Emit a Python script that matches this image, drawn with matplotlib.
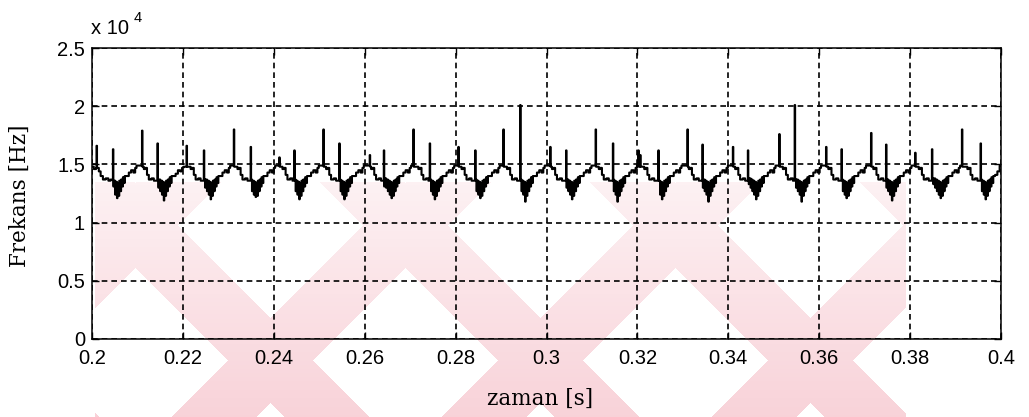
import numpy as np
import matplotlib
matplotlib.use("Agg")
import matplotlib.pyplot as plt
from matplotlib import font_manager

# Measured switching frequency; time in units of 0.1 ms, frequency in Hz
time_01ms = [
    2000, 2004, 2009, 2010, 2011, 2015, 2019, 2024, 2030, 2036, 2041,
    2046, 2047, 2048, 2051, 2052, 2055, 2056, 2059, 2060, 2063, 2064, 2067, 2068, 2071, 2072, 2076, 2081, 2086, 2091, 2095, 2098, 2110, 2111, 2114, 2117, 2121, 2125, 2131, 2136,
    2144, 2145, 2146, 2147, 2150, 2151, 2154, 2155, 2158, 2159, 2162, 2163, 2166, 2167, 2170, 2171, 2174, 2175, 2179, 2184, 2189, 2194, 2198, 2201, 2208, 2209, 2217, 2220, 2224, 2228, 2234, 2239,
    2246, 2247, 2249, 2250, 2253, 2254, 2257, 2258, 2261, 2262, 2265, 2266, 2269, 2270, 2273, 2274, 2277, 2278, 2282, 2287, 2292, 2297, 2301, 2304, 2312, 2313, 2320, 2323, 2327, 2331, 2337, 2342,
    2349, 2350, 2352, 2353, 2356, 2357, 2360, 2361, 2364, 2365, 2368, 2369, 2372, 2373, 2376, 2377, 2381, 2386, 2391, 2396, 2400, 2403, 2412, 2413, 2419, 2422, 2426, 2430, 2436, 2441,
    2445, 2446, 2448, 2449, 2452, 2453, 2456, 2457, 2460, 2461, 2464, 2465, 2468, 2469, 2472, 2473, 2477, 2482, 2487, 2492, 2496, 2499, 2509, 2510, 2515, 2518, 2522, 2526, 2532, 2537,
    2544, 2545, 2547, 2548, 2551, 2552, 2555, 2556, 2559, 2560, 2563, 2564, 2567, 2568, 2571, 2572, 2576, 2581, 2586, 2591, 2595, 2598, 2611, 2612, 2614, 2617, 2621, 2625, 2631, 2636,
    2642, 2643, 2644, 2647, 2648, 2651, 2652, 2655, 2656, 2659, 2660, 2663, 2664, 2667, 2668, 2671, 2672, 2675, 2676, 2680, 2685, 2690, 2695, 2699, 2702, 2707, 2708, 2718, 2721, 2725, 2729, 2735, 2740,
    2743, 2744, 2746, 2747, 2750, 2751, 2754, 2755, 2758, 2759, 2762, 2763, 2766, 2767, 2770, 2771, 2775, 2780, 2785, 2790, 2794, 2797, 2806, 2807, 2813, 2816, 2820, 2824, 2830, 2835,
    2843, 2844, 2846, 2847, 2850, 2851, 2854, 2855, 2858, 2859, 2862, 2863, 2866, 2867, 2870, 2871, 2875, 2880, 2885, 2890, 2894, 2897, 2905, 2906, 2913, 2916, 2920, 2924, 2930, 2935,
    2942, 2943, 2945, 2946, 2949, 2950, 2953, 2954, 2957, 2958, 2961, 2962, 2965, 2966, 2969, 2970, 2974, 2979, 2984, 2989, 2993, 2996, 3008, 3009, 3012, 3015, 3019, 3023, 3029, 3034,
    3043, 3044, 3045, 3048, 3049, 3052, 3053, 3056, 3057, 3060, 3061, 3064, 3065, 3068, 3069, 3072, 3073, 3077, 3082, 3087, 3092, 3096, 3099, 3108, 3109, 3115, 3118, 3122, 3126, 3132, 3137,
    3146, 3147, 3148, 3149, 3152, 3153, 3156, 3157, 3160, 3161, 3164, 3165, 3168, 3169, 3172, 3173, 3177, 3182, 3187, 3192, 3196, 3199, 3202, 3203, 3206, 3207, 3215, 3218, 3222, 3226, 3232, 3237,
    3246, 3247, 3250, 3251, 3254, 3255, 3258, 3259, 3262, 3263, 3266, 3267, 3270, 3271, 3275, 3280, 3285, 3290, 3294, 3297, 3310, 3311, 3313, 3316, 3320, 3324, 3330, 3335,
    3343, 3344, 3345, 3348, 3349, 3352, 3353, 3356, 3357, 3360, 3361, 3364, 3365, 3368, 3369, 3372, 3373, 3377, 3382, 3387, 3392, 3396, 3399, 3410, 3411, 3415, 3418, 3422, 3426, 3432, 3437,
    3443, 3444, 3445, 3446, 3449, 3450, 3453, 3454, 3457, 3458, 3461, 3462, 3465, 3466, 3469, 3470, 3473, 3474, 3477, 3478, 3482, 3487, 3492, 3497, 3501, 3504, 3512, 3513, 3520, 3523, 3527, 3531, 3537, 3542,
    3546, 3547, 3549, 3550, 3553, 3554, 3557, 3558, 3561, 3562, 3565, 3566, 3569, 3570, 3573, 3574, 3577, 3578, 3582, 3587, 3592, 3597, 3601, 3604, 3615, 3616, 3620, 3623, 3627, 3631, 3637, 3642,
    3649, 3650, 3652, 3653, 3656, 3657, 3660, 3661, 3664, 3665, 3668, 3669, 3672, 3673, 3676, 3677, 3681, 3686, 3691, 3696, 3700, 3703, 3714, 3715, 3719, 3722, 3726, 3730, 3736, 3741,
    3747, 3748, 3749, 3752, 3753, 3756, 3757, 3760, 3761, 3764, 3765, 3768, 3769, 3772, 3773, 3776, 3777, 3781, 3786, 3791, 3796, 3800, 3803, 3811, 3812, 3819, 3822, 3826, 3830, 3836, 3841,
    3848, 3849, 3851, 3852, 3855, 3856, 3859, 3860, 3863, 3864, 3867, 3868, 3871, 3872, 3875, 3876, 3879, 3880, 3883, 3884, 3888, 3893, 3898, 3903, 3907, 3910, 3914, 3915, 3926, 3929, 3933, 3937, 3943, 3948,
    3955, 3956, 3958, 3959, 3962, 3963, 3966, 3967, 3970, 3971, 3974, 3975, 3978, 3979, 3982, 3983, 3987, 3992, 3997, 4000,
]

freq_hz = [
    14800, 14600, 14700, 16600, 14700, 14400, 14000, 13700, 13800, 13600, 13700,
    16300, 13100, 13600, 12400, 13500, 12100, 13400, 12300, 13600, 12700, 13700, 13100, 13900, 13400, 14000, 14000, 14300, 14500, 14300, 14700, 14900, 17900, 14800, 14600, 14700, 14100, 13700, 13800, 13600,
    16800, 13700, 13000, 13700, 12700, 13600, 12400, 13500, 11900, 13400, 12300, 13600, 12700, 13700, 13100, 13900, 13400, 14000, 14000, 14200, 14500, 14400, 14700, 14800, 16600, 14800, 14600, 14700, 14100, 13700, 13800, 13600,
    16200, 13700, 13000, 13700, 12700, 13600, 12400, 13500, 12000, 13400, 12300, 13600, 12700, 13700, 13100, 13900, 13400, 14000, 14000, 14300, 14500, 14300, 14700, 14900, 18000, 14800, 14600, 14700, 14100, 13700, 13800, 13600,
    16500, 13700, 12700, 13600, 12400, 13500, 12200, 13400, 12300, 13600, 12700, 13700, 13100, 13900, 13400, 14000, 14000, 14300, 14500, 14300, 14700, 14900, 15600, 14800, 14600, 14700, 14100, 13700, 13800, 13600,
    16200, 13700, 12700, 13600, 12400, 13500, 12000, 13400, 12300, 13600, 12700, 13700, 13100, 13900, 13400, 14000, 14000, 14300, 14500, 14300, 14700, 14900, 18000, 14800, 14600, 14700, 14100, 13700, 13800, 13600,
    16800, 13700, 12700, 13600, 12400, 13500, 12000, 13400, 12300, 13600, 12700, 13700, 13100, 13900, 13400, 14000, 14000, 14300, 14500, 14300, 14700, 14900, 15800, 14800, 14600, 14700, 14100, 13700, 13800, 13600,
    16200, 13100, 13800, 13000, 13700, 12700, 13600, 12400, 13500, 12100, 13400, 12300, 13600, 12700, 13700, 13100, 13900, 13400, 14000, 14000, 14300, 14500, 14300, 14700, 14900, 18000, 14800, 14600, 14700, 14100, 13700, 13800, 13600,
    16800, 13700, 12700, 13600, 12400, 13500, 12000, 13400, 12300, 13600, 12700, 13700, 13100, 13900, 13400, 14000, 14000, 14300, 14500, 14300, 14700, 14900, 16500, 14800, 14600, 14700, 14100, 13700, 13800, 13600,
    16200, 13700, 12700, 13600, 12400, 13500, 12100, 13400, 12300, 13600, 12700, 13700, 13100, 13900, 13400, 14000, 14000, 14300, 14500, 14300, 14700, 14900, 18000, 14800, 14600, 14700, 14100, 13700, 13800, 13600,
    20100, 13700, 12700, 13600, 12400, 13500, 11800, 13400, 12300, 13600, 12700, 13700, 13100, 13900, 13400, 14000, 14000, 14300, 14500, 14300, 14700, 14900, 16500, 14800, 14600, 14700, 14100, 13700, 13800, 13600,
    16200, 13000, 13700, 12700, 13600, 12400, 13500, 12000, 13400, 12300, 13600, 12700, 13700, 13100, 13900, 13400, 14000, 14000, 14300, 14500, 14300, 14700, 14900, 18000, 14800, 14600, 14700, 14100, 13700, 13800, 13600,
    16800, 13700, 12700, 13600, 12400, 13500, 11800, 13400, 12300, 13600, 12700, 13700, 13100, 13900, 13400, 14000, 14000, 14300, 14500, 14300, 14700, 14900, 16200, 14800, 15800, 14800, 14600, 14700, 14100, 13700, 13800, 13600,
    16200, 13600, 12400, 13500, 12000, 13400, 12300, 13600, 12700, 13700, 13100, 13900, 13400, 14000, 14000, 14300, 14500, 14300, 14700, 14900, 18000, 14800, 14600, 14700, 14100, 13700, 13800, 13600,
    16700, 13000, 13700, 12700, 13600, 12400, 13500, 11800, 13400, 12300, 13600, 12700, 13700, 13100, 13900, 13400, 14000, 14000, 14300, 14500, 14300, 14700, 14900, 16500, 14800, 14600, 14700, 14100, 13700, 13800, 13600,
    16200, 13700, 13300, 13800, 13000, 13700, 12700, 13600, 12400, 13500, 12000, 13400, 12300, 13600, 12700, 13700, 13100, 13900, 13400, 14000, 14000, 14300, 14500, 14300, 14700, 14900, 17600, 14800, 14600, 14700, 14100, 13700, 13800, 13600,
    20100, 13700, 13000, 13700, 12700, 13600, 12400, 13500, 11800, 13400, 12300, 13600, 12700, 13700, 13100, 13900, 13400, 14000, 14000, 14300, 14500, 14300, 14700, 14900, 16500, 14800, 14600, 14700, 14100, 13700, 13800, 13600,
    16300, 13700, 12700, 13600, 12400, 13500, 12100, 13400, 12300, 13600, 12700, 13700, 13100, 13900, 13400, 14000, 14000, 14300, 14500, 14300, 14700, 14900, 17700, 14800, 14600, 14700, 14100, 13700, 13800, 13600,
    16700, 13000, 13700, 12700, 13600, 12400, 13500, 11900, 13400, 12300, 13600, 12700, 13700, 13100, 13900, 13400, 14000, 14000, 14300, 14500, 14300, 14700, 14900, 16000, 14800, 14600, 14700, 14100, 13700, 13800, 13600,
    16300, 13700, 13300, 13800, 13000, 13700, 12700, 13600, 12400, 13500, 12100, 13400, 12300, 13600, 12700, 13700, 13100, 13900, 13400, 14000, 14000, 14300, 14500, 14300, 14700, 14900, 18000, 14800, 14600, 14700, 14100, 13700, 13800, 13600,
    16800, 13700, 12700, 13600, 12400, 13500, 12000, 13400, 12300, 13600, 12700, 13700, 13100, 13900, 13400, 14000, 14100, 14400, 14900, 14900,
]

x_ticks = [0.2, 0.22, 0.24, 0.26, 0.28, 0.3, 0.32, 0.34, 0.36, 0.38, 0.4]
x_tick_labels = ["0.2", "0.22", "0.24", "0.26", "0.28", "0.3", "0.32", "0.34", "0.36", "0.38", "0.4"]
y_ticks_hz = [0, 5000, 10000, 15000, 20000, 25000]
y_tick_labels = ["0", "0.5", "1", "1.5", "2", "2.5"]

assert len(time_01ms) == len(freq_hz)


def available(*names):
    have = {f.name for f in font_manager.fontManager.ttflist}
    found = [n for n in names if n in have]
    return found + ["DejaVu Sans"]


tick_family = available("Liberation Sans Narrow", "Liberation Sans")
label_family = available("DejaVu Serif")
tick_size = 14.5

W, H = 1029, 417
fig = plt.figure(figsize=(W / 100, H / 100), dpi=100, facecolor="white")

# Light pink diagonal watermark behind the plot: crossing diagonal bands
bg = fig.add_axes([0, 0, 1, 1], zorder=0)
yy, xx = np.mgrid[0:H, 0:W].astype(float)
band = 84
mask = np.zeros((H, W), dtype=bool)
for xc in (0, 270, 540, 810, 1080):
    up = xx - (xc + (360 - yy))      # "/" band through (xc, 360)
    down = xx - (xc - (360 - yy))    # "\" band through (xc, 360)
    mask |= np.abs(up) <= band / 2
    mask |= np.abs(down) <= band / 2
mask &= (yy >= 182) & (xx >= 95) & (xx <= 905)
alpha = np.where(mask, 0.10 + 0.22 * np.clip((yy - 182) / (H - 182), 0, 1), 0.0)
rgba = np.zeros((H, W, 4))
rgba[..., 0] = 235 / 255
rgba[..., 1] = 115 / 255
rgba[..., 2] = 135 / 255
rgba[..., 3] = alpha
bg.imshow(rgba, extent=(0, W, H, 0), aspect="auto", interpolation="nearest")
bg.set_xlim(0, W)
bg.set_ylim(H, 0)
bg.axis("off")

ax = fig.add_axes([92 / W, 1 - 339 / H, 909 / W, 291 / H], zorder=1)
ax.patch.set_alpha(0)

t_s = np.array(time_01ms) / 1e4
ax.plot(t_s, freq_hz, drawstyle="steps-post", color="black", lw=1.5, zorder=3)

ax.set_xlim(0.2, 0.4)
ax.set_ylim(0, 25000)
ax.set_xticks(x_ticks)
ax.set_xticklabels(x_tick_labels)
ax.set_yticks(y_ticks_hz)
ax.set_yticklabels(y_tick_labels)
ax.grid(True, color="black", linestyle=(0, (3.4, 2.4)), linewidth=1.2)
ax.tick_params(direction="in", length=5, width=1, top=True, right=True,
               labelsize=tick_size, colors="black")
ax.tick_params(axis="x", pad=7.5)
ax.tick_params(axis="y", pad=5)
for lab in ax.get_xticklabels() + ax.get_yticklabels():
    lab.set_fontfamily(tick_family)
for sp in ax.spines.values():
    sp.set_linewidth(1.1)
    sp.set_color("black")

fig.text(91 / W, 1 - 34 / H, "x 10", fontsize=tick_size, family=tick_family,
         ha="left", va="baseline")
fig.text(134 / W, 1 - 22 / H, "4", fontsize=10.5, family=tick_family,
         ha="left", va="baseline")

fig.text(540 / W, 1 - 399 / H, "zaman [s]", fontsize=15.5, family=label_family,
         ha="center", va="center")
fig.text(20 / W, 1 - 196 / H, "Frekans [Hz]", fontsize=15.5, family=label_family,
         rotation=90, ha="center", va="center")

fig.savefig("out.png", dpi=100, facecolor="white")
